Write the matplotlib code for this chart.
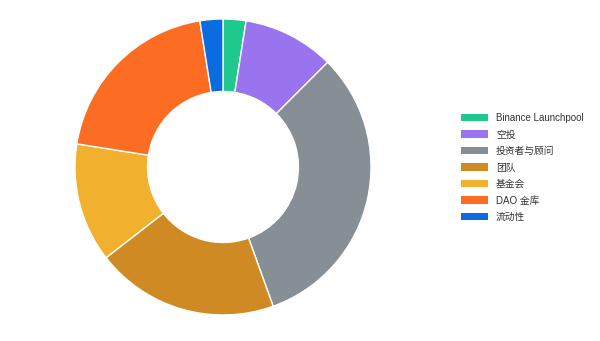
import numpy as np
import matplotlib.pyplot as plt
from matplotlib.patches import Patch

plt.rcParams['font.family'] = ['Liberation Sans', 'Noto Sans CJK SC', 'DejaVu Sans']

###############################################################################
## Data
###############################################################################
labels = ['Binance Launchpool', '空投', '投资者与顾问', '团队', '基金会', 'DAO 金库', '流动性']
shares = [2.5, 10, 32, 20, 13, 20, 2.5]   # percent
colors = ['#1fc98e', '#9a74ee', '#868e96', '#cf8a24', '#f2b02f', '#fc6c22', '#0b6be0']

###############################################################################
fig = plt.figure(figsize=(6, 3.41), dpi=100)
fig.patch.set_facecolor('white')

# donut centred at ~(223,167) px, outer radius ~148 px
ax = fig.add_axes([75/600, 26/341, 296/600, 296/341])
ax.pie(shares, colors=colors, startangle=90, counterclock=False,
       radius=1, wedgeprops=dict(width=0.49, edgecolor='white', linewidth=1))
ax.set_xlim(-1, 1)
ax.set_ylim(-1, 1)
ax.set_aspect('equal')
ax.axis('off')

handles = [Patch(facecolor=c, edgecolor='none') for c in colors]
fig.legend(handles, labels, loc='upper left',
           bbox_to_anchor=(461/600, 1 - 113/341),
           frameon=False, fontsize=7, handlelength=2.8, handleheight=0.8,
           handletextpad=0.8, labelspacing=0.67, borderpad=0, borderaxespad=0,
           labelcolor='#333333')

fig.savefig('out.png', dpi=100)
